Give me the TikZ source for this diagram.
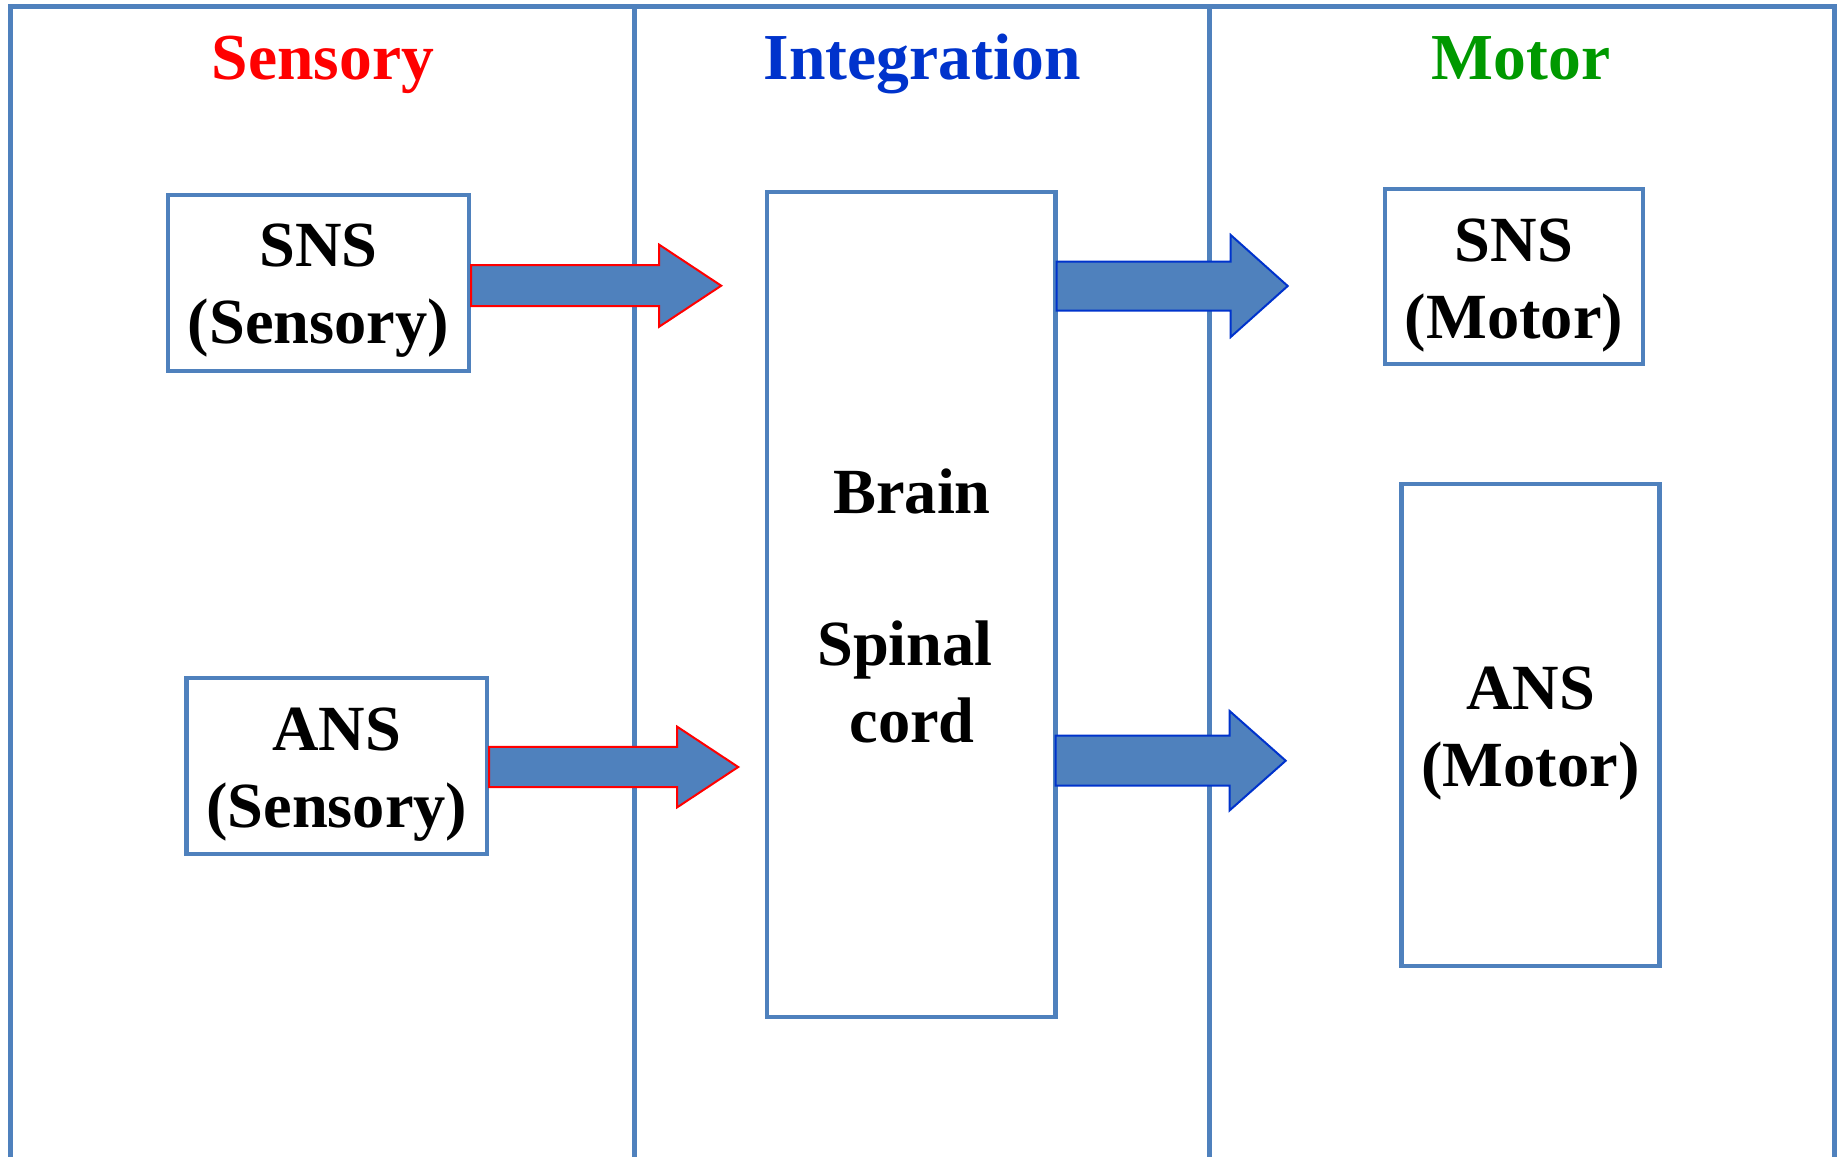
\documentclass[tikz,border=0pt]{standalone}
\usepackage{fontspec}
\setmainfont{Liberation Serif}
\usetikzlibrary{calc}
\definecolor{frameblue}{HTML}{4F81BD}
\definecolor{titlered}{HTML}{FF0000}
\definecolor{titleblue}{HTML}{0033CC}
\definecolor{titlegreen}{HTML}{009900}
\definecolor{edgeblue}{HTML}{0033CC}
\newcommand\blockarrow[6]{%
  \draw[#1] (#2) ++(0,-#4) -- ++(#3,0) -- ++(0,#4-#5) -- ++(#6,#5)
    -- ++(-#6,#5) -- ++(0,#4-#5) -- ++(-#3,0) -- cycle;}
\begin{document}
\begin{tikzpicture}[x=0.5pt,y=-0.5pt,
  panel/.style={draw=frameblue, line width=2.5pt},
  box/.style={draw=frameblue, line width=2.2pt, inner sep=0pt},
  boxtext/.style={font=\fontsize{32.2}{38}\selectfont\bfseries, anchor=base, inner sep=0pt},
  title/.style={font=\fontsize{32.8}{38}\selectfont\bfseries, anchor=base, inner sep=0pt},
  barrow/.style={fill=frameblue, line width=1pt, line join=miter}]
\useasboundingbox (0,0) rectangle (1839,1156);
\clip (0,0) rectangle (1839,1156);
% frame and dividers
\draw[panel] (10.5,1170) -- (10.5,6.5) -- (1834,6.5) -- (1834,1170);
\draw[panel] (634,6.5) -- (634,1170);
\draw[panel] (1209.5,6.5) -- (1209.5,1170);
% titles
\node[title, text=titlered] (tsens) at (323,80) {Sensory};
\node[title, text=titleblue] (tint) at (922,80) {Integration};
\node[title, text=titlegreen] (tmot) at (1521,80) {Motor};
% boxes
\node[box, minimum width=150.5pt, minimum height=88pt] (snsS) at (318.5,283) {};
\node[box, minimum width=150.25pt, minimum height=88pt] (ansS) at (336.75,766) {};
\node[box, minimum width=144.25pt, minimum height=412.5pt] (brain) at (911.25,604.5) {};
\node[box, minimum width=129pt, minimum height=87.5pt] (snsM) at (1514,276.5) {};
\node[box, minimum width=129pt, minimum height=241pt] (ansM) at (1530.5,725) {};
% box texts
\node[boxtext] (snsSa) at (318.5,266) {SNS};
\node[boxtext] (snsSb) at (318.5,343) {(Sensory)};
\node[boxtext] (ansSa) at (336.75,750) {ANS};
\node[boxtext] (ansSb) at (336.75,827) {(Sensory)};
\node[boxtext] (braina) at (912,513) {Brain};
\node[boxtext] (brainb) at (905,665) {Spinal};
\node[boxtext] (brainc) at (912,742) {cord};
\node[boxtext] (snsMa) at (1514,261) {SNS};
\node[boxtext] (snsMb) at (1514,338) {(Motor)};
\node[boxtext] (ansMa) at (1530.5,709) {ANS};
\node[boxtext] (ansMb) at (1530.5,786) {(Motor)};
% arrows
\coordinate (a1) at ($(snsS.east)+(0,2.7)$);
\coordinate (a2) at ($(ansS.east)+(0,1)$);
\coordinate (a3) at ($(brain.east |- 0,286)+(-1,0)$);
\coordinate (a4) at ($(brain.east |- 0,760.7)+(-2,0)$);
\blockarrow{barrow, draw=red}{a1}{188}{20.5}{41}{62}
\blockarrow{barrow, draw=red}{a2}{188}{20.2}{40.3}{61}
\blockarrow{barrow, draw=edgeblue}{a3}{174}{24.5}{51}{57}
\blockarrow{barrow, draw=edgeblue}{a4}{174}{25}{49.6}{56}
\end{tikzpicture}
\end{document}
